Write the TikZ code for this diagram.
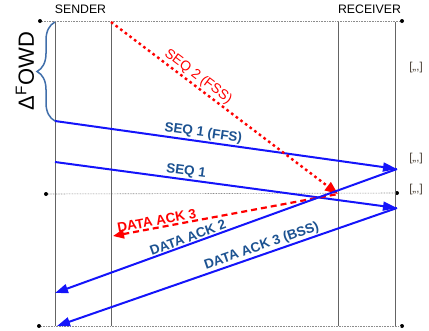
\documentclass[tikz,border=0pt]{standalone}
\usepackage{fontspec}
\setmainfont{Liberation Sans}
\usetikzlibrary{arrows.meta,decorations.pathreplacing}
\definecolor{msgblue}{RGB}{20,20,250}
\definecolor{lblblue}{RGB}{28,82,145}
\definecolor{msgred}{RGB}{255,0,0}
\definecolor{bracecol}{RGB}{64,110,170}
\definecolor{lifegray}{RGB}{100,100,100}
\definecolor{guidegray}{RGB}{140,140,140}
\definecolor{noteink}{RGB}{70,60,50}
\begin{document}
\begin{tikzpicture}[x=1pt,y=-1pt,
  lifeline/.style={draw=lifegray,line width=0.8pt},
  guide/.style={draw=guidegray,line width=0.6pt,dash pattern=on 0.8pt off 0.8pt},
  endpt/.style={circle,fill=black,inner sep=0pt,minimum size=4pt},
  msg/.style={draw=msgblue,line width=2pt},
  fwdtip/.style={-{Triangle[length=14pt,width=9pt]}},
  backtip/.style={{Triangle[length=13pt,width=9pt]}-},
  lostmsg/.style={draw=msgred,line width=2.4pt,dash pattern=on 2.6pt off 3.2pt},
  lostack/.style={draw=msgred,line width=2.2pt,dash pattern=on 6pt off 4pt},
  lbl/.style={text=lblblue,font=\fontsize{13.5}{14}\selectfont\bfseries,inner sep=1pt},
  redlbl/.style={text=msgred,font=\fontsize{13.8}{14}\selectfont,inner sep=1.5pt},
  redbold/.style={text=msgred,font=\fontsize{13.5}{14}\selectfont\bfseries,inner sep=1pt},
  title/.style={font=\fontsize{12.3}{13}\selectfont},
  note/.style={text=noteink,font=\fontsize{11.5}{12}\selectfont}
]
\useasboundingbox (0,0) rectangle (429,330);

% lifeline end points
\coordinate (sAt) at (55,22);   \coordinate (sAb) at (55,326);
\coordinate (sBt) at (111,22);  \coordinate (sBb) at (111,326);
\coordinate (rAt) at (338,22);  \coordinate (rAb) at (338,326);
\coordinate (rBt) at (395,22);  \coordinate (rBb) at (395,326);

% dotted reference levels
\node[endpt] (gTl) at (40,21) {};
\node[endpt] (gTr) at (402,21) {};
\node[endpt] (gMl) at (46,194) {};
\node[endpt] (gMr) at (397,193) {};
\node[endpt] (gBl) at (39,326) {};
\node[endpt] (gBr) at (402,326) {};
\draw[guide] (gTl) -- (gTr);
\draw[guide] (gMl) -- (gMr);
\draw[guide] (gBl) -- (gBr);

% lifelines
\draw[lifeline] (sAt) -- (sAb);
\draw[lifeline] (sBt) -- (sBb);
\draw[lifeline] (rAt) -- (rAb);
\draw[lifeline] (rBt) -- (rBb);

\node[title] (snd) at (80.5,9.5) {SENDER};
\node[title] (rcv) at (369.5,9.5) {RECEIVER};

% message end points
\coordinate (f1s) at (55,121);  \coordinate (f1e) at (397,169);
\coordinate (q1s) at (55,162);  \coordinate (q1e) at (397,208);
\coordinate (q2e) at (338,194);
\coordinate (a3e) at (113,236);
\coordinate (a2e) at (55,293);
\coordinate (b3e) at (57,326);

% one-way delay brace
\draw[bracecol,line width=1.5pt,decorate,decoration={brace,amplitude=18pt}] (f1s) -- (sAt);
\node[rotate=90,font=\fontsize{22}{22}\selectfont] (owd) at (25,71) {Δ\textsuperscript{F}OWD};

% forward messages
\draw[msg,fwdtip] (f1s) -- node[lbl,sloped,above,pos=0.43] {SEQ 1 (FFS)} (f1e);
\draw[msg,fwdtip] (q1s) -- node[lbl,sloped,above,pos=0.38] {SEQ 1} (q1e);
\draw[lostmsg,-{Triangle[length=13pt,width=10pt]}] (sBt) -- node[redlbl,sloped,above,pos=0.36] {SEQ 2 (FSS)} (q2e);

% acknowledgements
\draw[lostack,{Triangle[length=11pt,width=9pt]}-] (a3e) -- node[redbold,sloped,above,pos=0.2] {DATA ACK 3} (q2e);
\draw[msg,backtip] (a2e) -- node[lbl,sloped,above,pos=0.395] {DATA ACK 2} (f1e);
\draw[msg,backtip] (b3e) -- node[lbl,sloped,above,pos=0.61] {DATA ACK 3 (BSS)} (q1e);

% elided continuations
\node[note] (n1) at (416,68) {[,,,]};
\node[note] (n2) at (416,159) {[,,,]};
\node[note] (n3) at (416,190) {[,,,]};
\end{tikzpicture}
\end{document}
